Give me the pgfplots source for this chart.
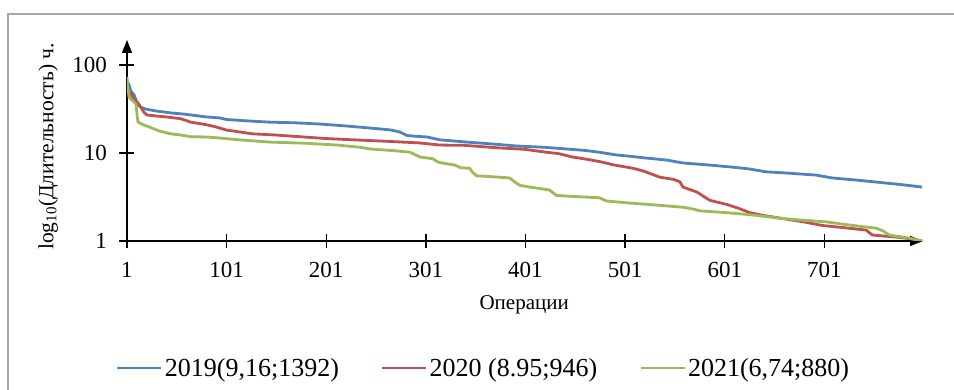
\documentclass[border=0pt]{standalone}
\usepackage{fontspec}
\setmainfont{Liberation Serif}
\usepackage{pgfplots}
\pgfplotsset{compat=1.18}
\usetikzlibrary{calc,arrows.meta}
\definecolor{cBlue}{HTML}{4F81BD}
\definecolor{cRed}{HTML}{C0504D}
\definecolor{cGreen}{HTML}{9BBB59}
\definecolor{cFrame}{HTML}{A6A6A6}
\begin{document}
\begin{tikzpicture}
\begin{axis}[
  name=ax,
  scale only axis,
  width=796pt, height=201pt,
  xmin=1, xmax=800,
  ymode=log, ymin=1, ymax=192,
  axis x line=bottom, axis y line=left,
  axis line style={line width=1.6pt, black},
  x axis line style={-{Triangle[length=13pt,width=10pt]}},
  y axis line style={-{Triangle[length=13pt,width=10pt]}},
  xtick={1,101,201,301,401,501,601,701},
  xticklabels={1,101,201,301,401,501,601,701},
  ytick={1,10,100},
  yticklabels={1,10,100},
  minor ytick={},
  xtick pos=bottom, ytick pos=left,
  tick align=center,
  major tick length=15pt,
  every tick/.style={draw=black, line width=1.4pt},
  /pgf/number format/assume math mode=true,
  ticklabel style={font=\fontsize{23}{27}\selectfont},
  xticklabel style={yshift=-10pt},
  yticklabel style={xshift=-9pt},
  xlabel={Операции},
  xlabel style={font=\fontsize{21}{25}\selectfont, at={(rel axis cs:0.499,-0.318)}, anchor=center},
  ylabel={log\textsubscript{10}(Длительность) ч.},
  ylabel style={font=\fontsize{21.5}{25}\selectfont, at={(rel axis cs:-0.099,0.47)}, anchor=center, rotate=0},
  legend columns=3,
  legend style={at={(rel axis cs:0.448,-0.632)}, anchor=center, draw=none, fill=none,
    font=\fontsize{26}{30}\selectfont,
    /tikz/every even column/.append style={column sep=40pt},
    /tikz/every odd column/.append style={column sep=0pt}},
  legend image code/.code={\draw[#1] (0pt,0pt) -- (44pt,0pt);},
  every axis plot/.append style={line width=2.8pt, line join=round},
]
\addplot[cBlue] coordinates {
(1,64)(3,60)(5,50)(8,46)(10,40)(12,35)(15,33)(20,31.5)(30,30)(45,28.5)(60,27.5)(80,25.7)(94,25)(101,24)(120,23.2)(144,22.4)(170,22)(195,21.3)(220,20.3)(245,19.2)(265,18.3)(275,17.3)(282,15.8)(290,15.5)(302,15.2)(315,14.1)(342,13.3)(370,12.6)(392,12)(420,11.6)(442,11.1)(460,10.7)(475,10.2)(492,9.5)(505,9.2)(520,8.8)(543,8.3)(559,7.7)(585,7.3)(609,6.9)(625,6.6)(643,6.1)(665,5.9)(693,5.6)(709,5.2)(735,4.9)(759,4.6)(780,4.35)(799,4.1)
};
\addlegendentry{2019(9,16;1392)}
\addplot[cRed] coordinates {
(1,55)(3,49)(5,47)(8,40)(12,37)(15,33)(18,29)(21,27)(30,26.3)(40,25.7)(55,24.5)(65,22.4)(80,21)(90,19.8)(101,18.2)(127,16.5)(150,16)(178,15.2)(200,14.6)(228,14.1)(260,13.6)(295,13)(315,12.3)(340,12.2)(375,11.4)(400,11)(422,10.2)(435,9.8)(448,9)(462,8.5)(475,8)(490,7.3)(509,6.7)(520,6.2)(536,5.3)(550,5)(556,4.7)(559,4.1)(573,3.6)(586,2.9)(603,2.6)(615,2.35)(626,2.1)(640,1.95)(659,1.8)(680,1.65)(699,1.5)(720,1.42)(743,1.33)(749,1.17)(776,1.1)(790,1.05)(799,1.0)
};
\addlegendentry{2020 (8.95;946)}
\addplot[cGreen] coordinates {
(1,73)(2,55)(3,43)(5,41)(9,37)(10,36)(11,28)(12,22.4)(17,21)(22,20)(28,18.8)(33,17.8)(45,16.5)(55,16)(65,15.3)(80,15.2)(94,14.8)(110,14.2)(144,13.3)(180,12.9)(212,12.3)(235,11.6)(245,11.1)(270,10.6)(285,10.2)(290,9.6)(295,9)(308,8.6)(313,7.9)(320,7.6)(330,7.3)(336,6.8)(345,6.7)(348,6.0)(352,5.5)(370,5.35)(385,5.2)(390,4.7)(395,4.3)(405,4.1)(425,3.8)(432,3.3)(450,3.2)(475,3.1)(482,2.85)(505,2.7)(525,2.6)(559,2.42)(570,2.3)(576,2.2)(603,2.1)(630,1.97)(659,1.8)(680,1.72)(703,1.65)(720,1.55)(743,1.44)(753,1.4)(760,1.3)(766,1.17)(786,1.08)(799,1.0)
};
\addlegendentry{2021(6,74;880)}
\end{axis}
\draw[cFrame, line width=1.5pt] ($(ax.south west)+(-119pt,-160pt)$) -- ($(ax.south west)+(-119pt,227pt)$) -- ($(ax.south west)+(840pt,227pt)$);
\pgfresetboundingbox
\path[use as bounding box] ($(ax.south west)+(-127pt,-149pt)$) rectangle ($(ax.south west)+(827pt,241pt)$);
\end{tikzpicture}
\end{document}
